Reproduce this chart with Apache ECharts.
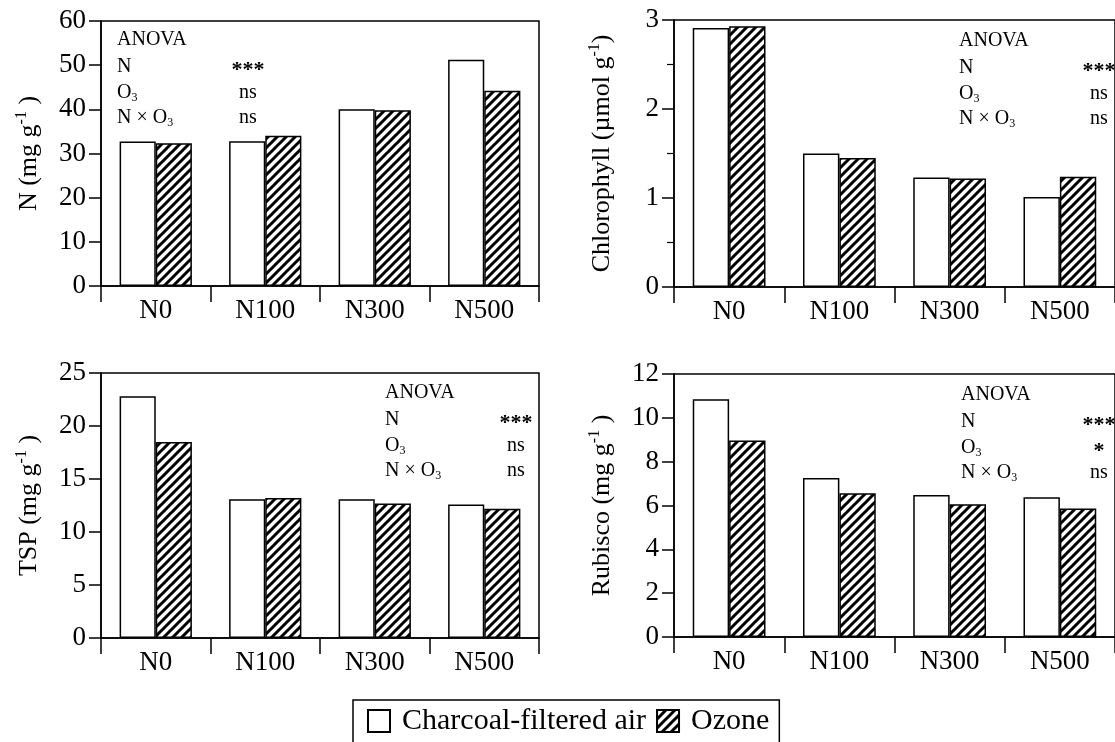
<!DOCTYPE html>
<html>
<head>
<meta charset="utf-8">
<script src="https://cdn.jsdelivr.net/npm/echarts@6/dist/echarts.min.js"></script>
<style>
html,body{margin:0;padding:0;background:#fff;}
#chart{width:1115px;height:742px;}
</style>
</head>
<body>
<div id="chart"></div>
<script>
// ---------- data ----------
const categories = ['N0', 'N100', 'N300', 'N500'];
const seriesNames = ['Charcoal-filtered air', 'Ozone'];

const nCharcoal = [32.7, 32.8, 40.0, 51.2];
const nOzone    = [32.3, 34.0, 39.8, 44.2];

const chlCharcoal = [2.91, 1.50, 1.23, 1.01];
const chlOzone    = [2.93, 1.45, 1.22, 1.24];

const tspCharcoal = [22.8, 13.1, 13.1, 12.6];
const tspOzone    = [18.5, 13.2, 12.7, 12.2];

const rubCharcoal = [10.85, 7.25, 6.48, 6.38];
const rubOzone    = [8.97, 6.56, 6.06, 5.86];

const anovaTerms = ['N', 'O3', 'N×O3'];
const anovaN   = ['***', 'ns', 'ns'];
const anovaChl = ['***', 'ns', 'ns'];
const anovaTsp = ['***', 'ns', 'ns'];
const anovaRub = ['***', '*', 'ns'];

// ---------- styling ----------
const FONT = 'Liberation Serif';

function makeHatch() {
  const s = 9;
  const c = document.createElement('canvas');
  c.width = s; c.height = s;
  const g = c.getContext('2d');
  g.fillStyle = '#fff'; g.fillRect(0, 0, s, s);
  g.strokeStyle = '#000'; g.lineWidth = 3; g.lineCap = 'square';
  g.beginPath();
  g.moveTo(-2, s + 2); g.lineTo(s + 2, -2);
  g.moveTo(-2, 2); g.lineTo(2, -2);
  g.moveTo(s - 2, s + 2); g.lineTo(s + 2, s - 2);
  g.stroke();
  return c;
}
const hatchPattern = { image: makeHatch(), repeat: 'repeat' };

const panels = [
  { grid: { left: 101, top: 21, width: 438, height: 265 }, max: 60, interval: 10, minor: false,
    name: '{a|N (mg g}{b|-1}{a| )}', a: nCharcoal, b: nOzone, stats: anovaN,
    anova: { x: 117, y: 41, cx: 248 } },
  { grid: { left: 674, top: 20, width: 444, height: 267 }, max: 3, interval: 1, minor: true,
    name: '{a|Chlorophyll (µmol g}{b|-1}{a|)}', a: chlCharcoal, b: chlOzone, stats: anovaChl,
    anova: { x: 959, y: 42, cx: 1099 } },
  { grid: { left: 101, top: 373, width: 438, height: 265 }, max: 25, interval: 5, minor: false,
    name: '{a|TSP (mg g}{b|-1}{a| )}', a: tspCharcoal, b: tspOzone, stats: anovaTsp,
    anova: { x: 385, y: 394, cx: 516 } },
  { grid: { left: 674, top: 374, width: 444, height: 263 }, max: 12, interval: 2, minor: false,
    name: '{a|Rubisco (mg g}{b|-1}{a| )}', a: rubCharcoal, b: rubOzone, stats: anovaRub,
    anova: { x: 961, y: 396, cx: 1099 } }
];

const grids = [], xAxes = [], yAxes = [], series = [], graphics = [];

const termRich = {
  t: { fontFamily: FONT, fontSize: 20, color: '#000', lineHeight: 22 },
  s: { fontFamily: FONT, fontSize: 12, color: '#000', lineHeight: 12, verticalAlign: 'bottom' }
};
function termText(t) {
  if (t === 'O3') return '{t|O}{s|3}';
  if (t === 'N×O3') return '{t|N × O}{s|3}';
  return '{t|' + t + '}';
}

panels.forEach((p, i) => {
  grids.push(Object.assign({ show: true, borderColor: '#000', borderWidth: 1.5, backgroundColor: 'transparent' }, p.grid));
  xAxes.push({
    type: 'category', gridIndex: i, data: categories,
    axisLine: { lineStyle: { color: '#000', width: 1.5 } },
    axisTick: { show: true, length: 16, inside: false, lineStyle: { color: '#000', width: 1.5 } },
    axisLabel: { color: '#000', fontFamily: FONT, fontSize: 27, margin: 11 },
    splitLine: { show: false }
  });
  yAxes.push({
    type: 'value', gridIndex: i, min: 0, max: p.max, interval: p.interval,
    name: p.name, nameLocation: 'middle', nameGap: 57,
    nameTextStyle: {
      rich: {
        a: { fontFamily: FONT, fontSize: 26, color: '#000', lineHeight: 30 },
        b: { fontFamily: FONT, fontSize: 16, color: '#000', lineHeight: 16, verticalAlign: 'top' }
      }
    },
    axisLine: { show: true, lineStyle: { color: '#000', width: 1.5 } },
    axisTick: { show: true, length: 12, inside: false, lineStyle: { color: '#000', width: 1.5 } },
    minorTick: { show: p.minor, splitNumber: 2, length: 7, lineStyle: { color: '#000', width: 1.2 } },
    axisLabel: { color: '#000', fontFamily: FONT, fontSize: 27, margin: 15 },
    splitLine: { show: false }
  });
  series.push({
    name: seriesNames[0], type: 'bar', xAxisIndex: i, yAxisIndex: i, data: p.a,
    barGap: '0%', barCategoryGap: '34%',
    itemStyle: { color: '#fff', borderColor: '#000', borderWidth: 1.5 },
    emphasis: { disabled: true }, animation: false
  });
  series.push({
    name: seriesNames[1], type: 'bar', xAxisIndex: i, yAxisIndex: i, data: p.b,
    barGap: '0%', barCategoryGap: '34%',
    itemStyle: { color: hatchPattern, borderColor: '#000', borderWidth: 1.5 },
    emphasis: { disabled: true }, animation: false
  });
  // ANOVA annotation
  const a = p.anova, step = 25.7;
  graphics.push({ type: 'text', left: a.x, top: a.y - 11, silent: true,
    style: { text: 'ANOVA', fontFamily: FONT, fontSize: 20, fill: '#000' } });
  anovaTerms.forEach((t, k) => {
    const y = a.y + step * (k + 1);
    graphics.push({ type: 'text', x: a.x, y: y, silent: true,
      style: { text: termText(t), rich: termRich, verticalAlign: 'middle', align: 'left' } });
    const isStar = p.stats[k].indexOf('*') >= 0;
    graphics.push({ type: 'text', x: a.cx, y: y + (isStar ? 4 : 0), silent: true,
      style: { text: p.stats[k], fontFamily: FONT, fontSize: isStar ? 22 : 20, fontWeight: isStar ? 'bold' : 'normal',
               fill: '#000', align: 'center', verticalAlign: 'middle' } });
  });
});

const chart = echarts.init(document.getElementById('chart'), null, { renderer: 'canvas' });
chart.setOption({
  animation: false,
  backgroundColor: '#fff',
  grid: grids,
  xAxis: xAxes,
  yAxis: yAxes,
  series: series,
  legend: {
    data: seriesNames, left: 353, top: 700, orient: 'horizontal',
    icon: 'rect', itemWidth: 22, itemHeight: 22, itemGap: 10,
    padding: [6, 10, 8, 14],
    borderColor: '#000', borderWidth: 1.5,
    textStyle: { fontFamily: FONT, fontSize: 30, color: '#000', padding: [0, 0, 0, 7] },
    selectedMode: false
  },
  graphic: graphics
});
</script>
</body>
</html>
